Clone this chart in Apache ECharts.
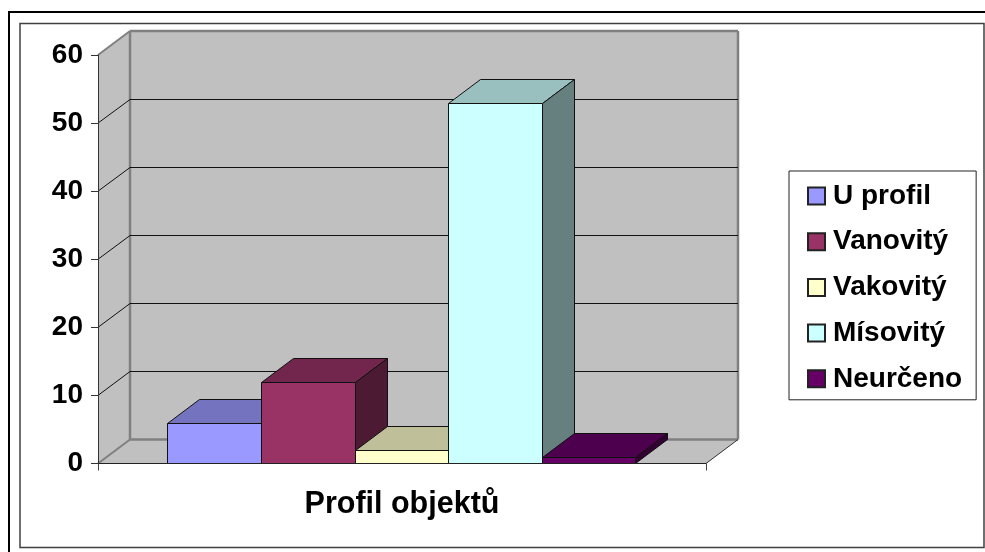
<!DOCTYPE html>
<html>
<head>
<meta charset="utf-8">
<style>
html, body { margin: 0; padding: 0; background: #fff; overflow: hidden; }
#chart { width: 985px; height: 552px; }
</style>
<script src="https://cdn.jsdelivr.net/npm/echarts@6/dist/echarts.min.js"></script>
</head>
<body>
<div id="chart"></div>
<script>
var categories = ['Profil objektů'];
var seriesNames = ['U profil', 'Vanovitý', 'Vakovitý', 'Mísovitý', 'Neurčeno'];
var seriesValues = [6, 12, 2, 53, 1];
var yTicks = [0, 10, 20, 30, 40, 50, 60];

var frontColors = ['#9999ff', '#993366', '#ffffcc', '#ccffff', '#660066'];
var topColors = ['#7373bf', '#73264d', '#bfbf99', '#99bfbf', '#4d004d'];
var sideColors = ['#4d4d80', '#4d1a33', '#808066', '#668080', '#330033'];

// fake 3d: how far the back of the box sits from the front
var depthX = 32;
var depthY = -24;
var FONT = '"Liberation Sans", Arial, sans-serif';

function poly(points, fill, stroke, width) {
  return {
    type: 'polygon',
    shape: { points: points },
    style: { fill: fill, stroke: stroke || null, lineWidth: width || 0 }
  };
}

function line(x1, y1, x2, y2, color, width) {
  return {
    type: 'line',
    shape: { x1: x1, y1: y1, x2: x2, y2: y2 },
    style: { stroke: color, lineWidth: width }
  };
}

function renderWalls(params, api) {
  var c = params.coordSys;
  var l = c.x, r = c.x + c.width, t = c.y, b = c.y + c.height;
  var dx = depthX, dy = depthY;
  var wall = '#c0c0c0', edge = '#808080';
  return {
    type: 'group',
    children: [
      poly([[l + dx, t + dy], [r + dx, t + dy], [r + dx, b + dy], [l + dx, b + dy]], wall),
      poly([[l, t], [l + dx, t + dy], [l + dx, b + dy], [l, b]], wall),
      poly([[l, b], [l + dx, b + dy], [r + dx, b + dy], [r, b]], wall),
      line(l, t, l + dx, t + dy, edge, 2),
      line(l + dx, t + dy, r + dx, t + dy, edge, 2.5),
      line(l + dx, t + dy, l + dx, b + dy, edge, 2.5),
      line(r + dx, t + dy, r + dx, b + dy, edge, 2.5),
      line(l + dx, b + dy, r + dx, b + dy, edge, 2.5),
      line(l, b, l + dx, b + dy, edge, 2),
      line(r, b, r + dx, b + dy, '#333', 1)
    ]
  };
}

function renderGridLine(params, api) {
  var c = params.coordSys;
  var y = api.coord([0, api.value(0)])[1];
  var backY = Math.round(y + depthY) + 0.5;
  var l = c.x, r = c.x + c.width;
  return {
    type: 'group',
    children: [
      line(l, y, l + depthX, backY, '#111', 1),
      line(l + depthX, backY, r + depthX, backY, '#111', 1)
    ]
  };
}

function renderBar(index) {
  return function (params, api) {
    var base = api.coord([0, 0]);
    var top = api.coord([0, api.value(1)]);
    var band = api.size([1, 0])[0];
    // gap width 150%: 5 bars + 1.5 bar widths of gap
    var w = band / (seriesNames.length + 1.5);
    var start = base[0] - band / 2 + 0.75 * w;
    var x0 = Math.floor(start + index * w - 0.2) + 0.5;
    var x1 = Math.floor(start + (index + 1) * w - 0.2) + 0.5;
    var y0 = base[1], y1 = Math.round(top[1]) + 0.5;
    var dx = depthX, dy = depthY;
    return {
      type: 'group',
      children: [
        poly([[x0, y1], [x1, y1], [x1 + dx, y1 + dy], [x0 + dx, y1 + dy]], topColors[index], '#111', 1),
        poly([[x1, y0], [x1 + dx, y0 + dy], [x1 + dx, y1 + dy], [x1, y1]], sideColors[index], '#111', 1),
        poly([[x0, y0], [x1, y0], [x1, y1], [x0, y1]], frontColors[index], '#111', 1)
      ]
    };
  };
}

var series = [
  {
    type: 'custom',
    name: 'walls',
    z: 1,
    silent: true,
    renderItem: renderWalls,
    data: [[0]]
  },
  {
    type: 'custom',
    name: 'gridlines',
    z: 2,
    silent: true,
    renderItem: renderGridLine,
    encode: { y: 0 },
    data: yTicks.slice(1, -1).map(function (t) { return [t]; })
  }
];

seriesNames.forEach(function (name, i) {
  series.push({
    type: 'custom',
    name: name,
    z: 3,
    itemStyle: { color: frontColors[i], borderColor: '#222', borderWidth: 1 },
    renderItem: renderBar(i),
    encode: { x: 0, y: 1 },
    data: [[0, seriesValues[i]]]
  });
});

var chart = echarts.init(document.getElementById('chart'), null, { renderer: 'canvas' });
chart.setOption({
  animation: false,
  backgroundColor: '#fff',
  graphic: [
    // outer frame runs off the right and bottom of the page, as in the picture
    { type: 'rect', z: -1, shape: { x: 9, y: 12, width: 1000, height: 560 }, style: { fill: '#fff', stroke: '#000', lineWidth: 2 } },
    { type: 'rect', z: -1, shape: { x: 20, y: 23.5, width: 964, height: 524 }, style: { fill: '#fff', stroke: '#404040', lineWidth: 1.5 } }
  ],
  grid: { left: 98, right: 279, top: 55, bottom: 88.5 },
  legend: {
    orient: 'vertical',
    left: 789,
    top: 171,
    padding: [11, 14, 7, 18],
    itemWidth: 17,
    itemHeight: 17,
    itemGap: 17.7,
    icon: 'rect',
    backgroundColor: '#fff',
    borderColor: '#222',
    borderWidth: 1,
    data: seriesNames,
    textStyle: { fontFamily: FONT, fontSize: 28, fontWeight: 'bold', color: '#000', padding: [0, 0, 0, 3] }
  },
  xAxis: {
    type: 'category',
    data: categories,
    z: 5,
    axisLine: { lineStyle: { color: '#222', width: 1 } },
    axisTick: { show: true, length: 7, lineStyle: { color: '#444' } },
    axisLabel: { margin: 26, fontFamily: FONT, fontSize: 30.5, fontWeight: 'bold', color: '#000' }
  },
  yAxis: {
    type: 'value',
    min: 0,
    max: 60,
    interval: 10,
    z: 5,
    axisLine: { show: true, lineStyle: { color: '#333', width: 1 } },
    axisTick: { show: true, length: 7, lineStyle: { color: '#333' } },
    splitLine: { show: false },
    axisLabel: { margin: 15, fontFamily: FONT, fontSize: 28, fontWeight: 'bold', color: '#000', padding: [2, 0, 0, 0] }
  },
  series: series
});
</script>
</body>
</html>
